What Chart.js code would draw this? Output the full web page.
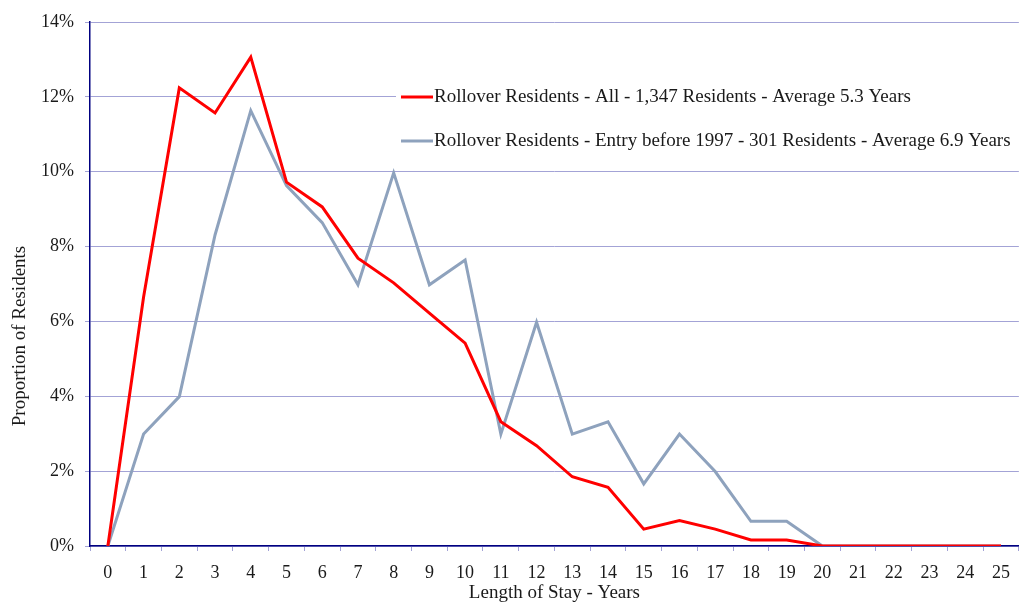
<!DOCTYPE html>
<html>
<head>
<meta charset="utf-8">
<script src="https://cdn.jsdelivr.net/npm/chart.js@4.4.1/dist/chart.umd.min.js"></script>
<style>
html,body{margin:0;padding:0;background:#fff;}
#wrap{width:1021px;height:604px;position:relative;}
</style>
</head>
<body>
<div id="wrap"><canvas id="c" width="1021" height="604"></canvas></div>
<script>
const categories = ['0','1','2','3','4','5','6','7','8','9','10','11','12','13','14','15','16','17','18','19','20','21','22','23','24','25'];
const seriesAllLabel = 'Rollover Residents - All - 1,347 Residents - Average 5.3 Years';
const seriesAll = [0, 6.65, 12.24, 11.57, 13.06, 9.72, 9.06, 7.69, 7.03, 6.22, 5.42, 3.32, 2.68, 1.85, 1.57, 0.45, 0.68, 0.45, 0.16, 0.16, 0, 0, 0, 0, 0, 0];
const seriesPre1997Label = 'Rollover Residents - Entry before 1997 - 301 Residents - Average 6.9 Years';
const seriesPre1997 = [0, 2.99, 3.99, 8.31, 11.63, 9.63, 8.64, 6.98, 9.97, 6.98, 7.64, 2.99, 5.98, 2.99, 3.32, 1.66, 2.99, 1.99, 0.66, 0.66, 0, 0, 0, 0, 0, 0];
const yTicks = [0, 2, 4, 6, 8, 10, 12, 14];
const xTitle = 'Length of Stay - Years';
const yTitle = 'Proportion of Residents';

const FONT = "'Liberation Serif', 'DejaVu Serif', serif";
const RED = '#ff0000';
const GRAY = '#8ea2bd';
const GRID = '#a3a3d6';
const NAVY = '#000080';
const TEXT = '#1a1a1a';

const legendPlugin = {
  id: 'customLegend',
  afterDatasetsDraw(chart) {
    const ctx = chart.ctx;
    ctx.save();
    ctx.fillStyle = '#fff';
    ctx.fillRect(396, 74, 625, 84);
    const items = [
      {label: seriesAllLabel, color: RED, y: 97},
      {label: seriesPre1997Label, color: GRAY, y: 141}
    ];
    ctx.font = '19px ' + FONT;
    ctx.textBaseline = 'middle';
    items.forEach(it => {
      ctx.strokeStyle = it.color;
      ctx.lineWidth = 3;
      ctx.beginPath();
      ctx.moveTo(401, it.y);
      ctx.lineTo(433, it.y);
      ctx.stroke();
      ctx.fillStyle = TEXT;
      ctx.fillText(it.label, 434, it.y);
    });
    // y axis title (placed as in the reference, below the axis centre)
    ctx.translate(20, 336);
    ctx.rotate(-Math.PI / 2);
    ctx.textAlign = 'center';
    ctx.textBaseline = 'middle';
    ctx.fillStyle = TEXT;
    ctx.fillText(yTitle, 0, 0);
    ctx.restore();
  }
};

new Chart(document.getElementById('c'), {
  type: 'line',
  data: {
    labels: categories,
    datasets: [
      {label: seriesPre1997Label, data: seriesPre1997, borderColor: GRAY, backgroundColor: GRAY, borderWidth: 3, pointRadius: 0, tension: 0, order: 2},
      {label: seriesAllLabel, data: seriesAll, borderColor: RED, backgroundColor: RED, borderWidth: 3, pointRadius: 0, tension: 0, order: 1}
    ]
  },
  options: {
    responsive: false,
    animation: false,
    devicePixelRatio: 1,
    layout: {padding: {top: 22, right: 0, left: 0, bottom: 0}},
    plugins: {legend: {display: false}, tooltip: {enabled: false}},
    scales: {
      x: {
        type: 'category',
        offset: true,
        grid: {offset: true, drawOnChartArea: false, drawTicks: true, tickLength: 5, color: GRID},
        border: {color: NAVY, width: 1.5},
        ticks: {font: {family: FONT, size: 18}, color: TEXT, padding: 11, maxRotation: 0, autoSkip: false},
        title: {display: true, text: xTitle, font: {family: FONT, size: 19}, color: TEXT, padding: {top: 0, bottom: 0}},
        afterFit: s => { s.height = 58; }
      },
      y: {
        min: 0, max: 14,
        afterBuildTicks: s => { s.ticks = yTicks.map(v => ({value: v})); },
        grid: {color: GRID, drawTicks: true, tickLength: 5},
        border: {color: NAVY, width: 1.5},
        ticks: {font: {family: FONT, size: 18}, color: TEXT, padding: 11, callback: v => v + '%'},
        title: {display: false, text: yTitle},
        afterFit: s => { s.width = 90; }
      }
    }
  },
  plugins: [legendPlugin]
});
</script>
</body>
</html>
